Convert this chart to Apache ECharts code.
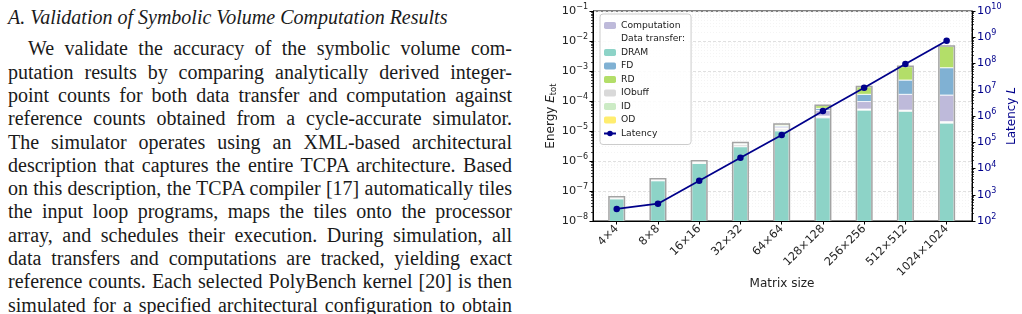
<!DOCTYPE html>
<html>
<head>
<meta charset="utf-8">
<script src="https://cdn.jsdelivr.net/npm/echarts@6/dist/echarts.min.js"></script>
<style>
  body { margin: 0; background: #fff; }
  #page { position: relative; width: 1022px; height: 314px; overflow: hidden; }
  #text { position: absolute; left: 8px; top: 0; width: 504px; font-family: "Liberation Serif", serif; font-size: 20px; color: #1a1a1a; }
  #text div { position: absolute; left: 0; width: 504px; white-space: nowrap; text-align: justify; text-align-last: justify; line-height: 24px; }
  #text div.h { font-style: italic; text-align: left; text-align-last: left; }
  #text div.ind { left: 20px; width: 484px; }
  #chart { position: absolute; left: 0; top: 0; width: 1022px; height: 314px; }
</style>
</head>
<body>
<div id="page">
  <div id="text"></div>
  <div id="chart"></div>
</div>
<script>
// paper text to the left of the figure
var lines = [
  'A. Validation of Symbolic Volume Computation Results',
  'We validate the accuracy of the symbolic volume com-',
  'putation results by comparing analytically derived integer-',
  'point counts for both data transfer and computation against',
  'reference counts obtained from a cycle-accurate simulator.',
  'The simulator operates using an XML-based architectural',
  'description that captures the entire TCPA architecture. Based',
  'on this description, the TCPA compiler [17] automatically tiles',
  'the input loop programs, maps the tiles onto the processor',
  'array, and schedules their execution. During simulation, all',
  'data transfers and computations are tracked, yielding exact',
  'reference counts. Each selected PolyBench kernel [20] is then',
  'simulated for a specified architectural configuration to obtain'
];
var textBox = document.getElementById('text');
lines.forEach(function (t, k) {
  var d = document.createElement('div');
  d.textContent = t;
  if (k === 0) { d.className = 'h'; d.style.top = '5px'; }
  else {
    if (k === 1) d.className = 'ind';
    d.style.top = (36.3 + (k - 1) * 23.3) + 'px';
  }
  textBox.appendChild(d);
});

// chart data
var categories = ['4×4', '8×8', '16×16', '32×32', '64×64', '128×128', '256×256', '512×512', '1024×1024'];
var dram        = [5.5e-8, 2.2e-7, 8.3e-7, 3.0e-6, 1.02e-5, 2.77e-5, 5.0e-5, 4.6e-5, 1.85e-5];
var iobuff      = [4e-9, 1.5e-8, 8e-8, 5e-7, 1.5e-6, 2.5e-6, 2.5e-6, 2.0e-6, 1.2e-6];
var idData      = [2e-9, 7e-9, 4e-8, 2.5e-7, 7e-7, 1.0e-6, 1.2e-6, 1.2e-6, 6e-7];
var od          = [2e-10, 5e-10, 3e-9, 2e-8, 2e-7, 3e-7, 3e-7, 3e-7, 2e-7];
var computation = [5e-10, 1.5e-9, 1.5e-8, 1.2e-7, 1.3e-6, 1.66e-5, 4.2e-5, 1.175e-4, 1.375e-4];
var fd          = [3e-10, 1e-9, 8e-9, 7e-8, 1.3e-6, 8.9e-6, 7.1e-5, 3.33e-4, 1.13e-3];
var rd          = [2e-10, 5e-10, 4e-9, 4e-8, 1.4e-6, 1.29e-5, 1.26e-4, 8.9e-4, 5.27e-3];
var latency     = [287, 456, 3430, 25800, 1.89e5, 1.55e6, 1.2e7, 9.57e7, 7.4e8];

// stacking order bottom -> top
var stackOrder = [
  { name: 'DRAM', data: dram, color: '#8dd3c7' },
  { name: 'IObuff', data: iobuff, color: '#d9d9d9' },
  { name: 'ID', data: idData, color: '#ccebc5' },
  { name: 'OD', data: od, color: '#ffed6f' },
  { name: 'Computation', data: computation, color: '#bebada' },
  { name: 'FD', data: fd, color: '#80b1d3' },
  { name: 'RD', data: rd, color: '#b3de69' }
];

var FLOOR = 1e-9; // below axis min, gets clipped
var BAR_W = 14.5;

function segRender(params, api) {
  var i = api.value(0);
  var p0 = api.coord([i, api.value(1)]);
  var p1 = api.coord([i, api.value(2)]);
  return {
    type: 'rect',
    shape: { x: p0[0] - BAR_W / 2, y: p1[1], width: BAR_W, height: p0[1] - p1[1] },
    style: { fill: api.visual('color'), stroke: '#ffffff', lineWidth: 0.8 }
  };
}

function outlineRender(params, api) {
  var i = api.value(0);
  var p0 = api.coord([i, api.value(1)]);
  var p1 = api.coord([i, api.value(2)]);
  return {
    type: 'rect',
    shape: { x: p0[0] - BAR_W / 2 - 0.5, y: p1[1] - 0.5, width: BAR_W + 1, height: p0[1] - p1[1] + 0.5 },
    style: { fill: 'none', stroke: '#a3a3a3', lineWidth: 1.5 }
  };
}

var cum = categories.map(function () { return FLOOR; });
var series = [];
stackOrder.forEach(function (s) {
  var d = s.data.map(function (v, i) {
    var lo = cum[i];
    cum[i] = (lo === FLOOR ? 0 : lo) + v;
    return [i, lo, cum[i]];
  });
  series.push({
    name: s.name, type: 'custom', renderItem: segRender, clip: true,
    encode: { x: 0, y: [1, 2] }, itemStyle: { color: s.color }, data: d, z: 2
  });
});
series.push({
  name: 'outline', type: 'custom', renderItem: outlineRender, clip: true,
  encode: { x: 0, y: [1, 2] }, data: cum.map(function (v, i) { return [i, FLOOR, v]; }), z: 3, silent: true
});
series.push({
  name: 'Data transfer:', type: 'custom', renderItem: segRender,
  itemStyle: { color: 'rgba(0,0,0,0)' }, data: []
});
series.push({
  name: 'Latency', type: 'line', yAxisIndex: 1, z: 5,
  data: latency.map(function (v, i) { return [i, v]; }),
  lineStyle: { color: '#00008b', width: 1.8 }, itemStyle: { color: '#00008b' },
  symbol: 'circle', symbolSize: 6.5
});

var minorE = [];
for (var e = -8; e < -1; e++) for (var m = 2; m <= 9; m++) minorE.push(m * Math.pow(10, e));
var minorL = [];
for (var e2 = 2; e2 < 10; e2++) for (var m2 = 2; m2 <= 9; m2++) minorL.push(m2 * Math.pow(10, e2));

var FONT = 'DejaVu Sans';
function powLabel(v) {
  var ex = Math.round(Math.log10(v));
  return '{b|10}{sup|' + (ex < 0 ? '\u2212' + (-ex) : ex) + '}';
}

var myChart = echarts.init(document.getElementById('chart'));
var option = {
  animation: false,
  grid: { left: 593, right: 50, top: 11, bottom: 93, show: true, borderColor: '#000', borderWidth: 1, backgroundColor: 'transparent' },
  // x axis title placed directly, below the rotated tick labels
  graphic: [{
    type: 'text', x: 782, y: 284,
    style: { text: 'Matrix size', fontFamily: FONT, fontSize: 12, fill: '#222', align: 'center', verticalAlign: 'middle' }
  }],
  legend: {
    orient: 'vertical', left: 600, top: 14,
    data: ['Computation', { name: 'Data transfer:', itemStyle: { opacity: 0 } }, 'DRAM', 'FD', 'RD', 'IObuff', 'ID', 'OD', 'Latency'],
    itemWidth: 12, itemHeight: 7, itemGap: 1.5,
    textStyle: { fontFamily: FONT, fontSize: 9.2, color: '#222', lineHeight: 12 },
    backgroundColor: 'rgba(255,255,255,0.85)', borderColor: '#cccccc', borderWidth: 1, borderRadius: 3,
    padding: [5.5, 6, 5, 3], selectedMode: false
  },
  xAxis: {
    type: 'value', min: -0.575, max: 8.615,
    axisLine: { show: true, onZero: false, lineStyle: { color: '#000', width: 1 } },
    axisTick: { show: true, inside: false, length: 3.5, lineStyle: { color: '#000' }, customValues: [0, 1, 2, 3, 4, 5, 6, 7, 8] },
    axisLabel: {
      customValues: [0, 1, 2, 3, 4, 5, 6, 7, 8], rotate: 45, margin: 6,
      fontFamily: FONT, fontSize: 11.3, color: '#222',
      formatter: function (v) { return categories[Math.round(v)]; }
    },
    splitLine: { show: false }
  },
  yAxis: [
    {
      type: 'log', logBase: 10, min: 1e-8, max: 1e-1, position: 'left',
      name: 'Energy {i|E}{s|tot}', nameLocation: 'middle', nameGap: 34, nameRotate: 90,
      nameTextStyle: {
        fontFamily: FONT, fontSize: 12, color: '#222',
        rich: { i: { fontFamily: FONT, fontSize: 12, fontStyle: 'italic' }, s: { fontFamily: FONT, fontSize: 8.5, padding: [5, 0, 0, 0] } }
      },
      axisLine: { show: true, onZero: false, lineStyle: { color: '#000' } },
      axisTick: { show: true, length: 3.5, lineStyle: { color: '#000' } },
      axisLabel: {
        formatter: powLabel, color: '#222', margin: 5,
        rich: {
          b: { fontFamily: FONT, fontSize: 11.3, color: '#222' },
          sup: { fontFamily: FONT, fontSize: 8, color: '#222', padding: [0, 0, 8, 0] }
        }
      },
      splitLine: { show: true, lineStyle: { color: '#d8d8d8', type: [3, 2], width: 0.8 } }
    },
    {
      type: 'log', logBase: 10, min: 1e2, max: 1e10, position: 'right',
      name: 'Latency {i|L}', nameLocation: 'middle', nameGap: 33, nameRotate: 90,
      nameTextStyle: {
        fontFamily: FONT, fontSize: 12, color: '#00008b',
        rich: { i: { fontFamily: FONT, fontSize: 12, fontStyle: 'italic', color: '#00008b' } }
      },
      axisLine: { show: true, onZero: false, lineStyle: { color: '#000' } },
      axisTick: { show: true, length: 3.5, lineStyle: { color: '#000' } },
      axisLabel: {
        formatter: powLabel, color: '#00008b', margin: 5,
        rich: {
          b: { fontFamily: FONT, fontSize: 11.3, color: '#00008b' },
          sup: { fontFamily: FONT, fontSize: 8, color: '#00008b', padding: [0, 0, 8, 0] }
        }
      },
      splitLine: { show: false }
    },
    {
      type: 'log', logBase: 10, min: 1e-8, max: 1e-1, position: 'left',
      axisLine: { show: false, onZero: false },
      axisTick: { show: true, length: 2, lineStyle: { color: '#000', width: 0.7 }, customValues: minorE },
      axisLabel: { show: false },
      splitLine: { show: true, lineStyle: { color: '#ececec', type: [1, 2], width: 0.6 } }
    },
    {
      type: 'log', logBase: 10, min: 1e2, max: 1e10, position: 'right',
      axisLine: { show: false, onZero: false },
      axisTick: { show: true, length: 2, lineStyle: { color: '#000', width: 0.7 }, customValues: minorL },
      axisLabel: { show: false },
      splitLine: { show: false }
    }
  ],
  series: series
};

myChart.setOption(option);
</script>
</body>
</html>
